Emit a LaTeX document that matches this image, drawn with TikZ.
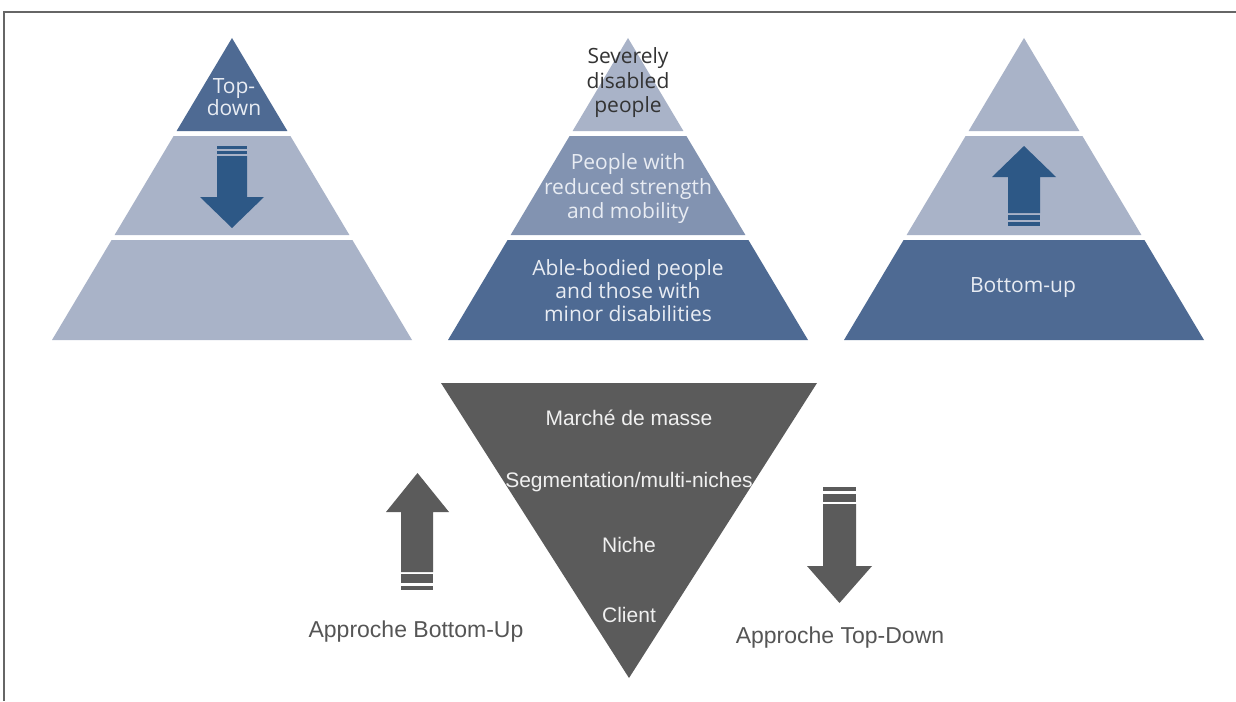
\documentclass[tikz,border=0pt]{standalone}
\usepackage{fontspec}
\setmainfont{Liberation Sans}
\newfontfamily\pyrfont{Open Sans}
\definecolor{darkblue}{HTML}{4E6A93}
\definecolor{midblue}{HTML}{8293B1}
\definecolor{lightblue}{HTML}{A9B3C8}
\definecolor{arrowblue}{HTML}{2D5886}
\definecolor{pyrwhite}{HTML}{E8ECF3}
\definecolor{sevgray}{HTML}{333333}
\definecolor{funnelgray}{HTML}{5B5B5B}
\definecolor{labelgray}{HTML}{555555}
\definecolor{framegray}{HTML}{666666}
\newcommand\drawpyr[4]{%
  \fill[#2] (#1,38) -- ({#1+55.4},131) -- ({#1-55.4},131) -- cycle;
  \fill[#3] ({#1-58.4},136) -- ({#1+58.4},136) -- ({#1+117.4},235) -- ({#1-117.4},235) -- cycle;
  \fill[#4] ({#1-120.4},240) -- ({#1+120.4},240) -- ({#1+180},340) -- ({#1-180},340) -- cycle;
}
\tikzset{
  pyrtext/.style={font=\pyrfont\fontsize{21}{24.5}\selectfont, text=pyrwhite, align=center, inner sep=0pt},
  funneltext/.style={font=\fontsize{21}{25}\selectfont, text=white!94!black, inner sep=0pt},
  labeltext/.style={font=\fontsize{23}{27}\selectfont, text=labelgray, inner sep=0pt},
  pyrarrow/.style={fill=arrowblue},
  grayarrow/.style={fill=funnelgray}
}
\begin{document}
\begin{tikzpicture}[x=1pt,y=-1pt]
\useasboundingbox (0,0) rectangle (1236,701);
\fill[white] (0,0) rectangle (1236,701);
\draw[framegray, line width=1.6pt] (4,701) -- (4,12) -- (1236,12);

% pyramids
\drawpyr{232}{darkblue}{lightblue}{lightblue}
\drawpyr{628}{lightblue}{midblue}{darkblue}
\drawpyr{1024}{lightblue}{lightblue}{darkblue}

% left pyramid arrow (down)
\fill[pyrarrow] (217,156) -- (247,156) -- (247,197) -- (264,197) -- (232,228) -- (200,197) -- (217,197) -- cycle;
\fill[pyrarrow] (217,146) rectangle (247,149);
\fill[pyrarrow] (217,151) rectangle (247,154);

% right pyramid arrow (up)
\fill[pyrarrow] (1008,213) -- (1008,177) -- (992,177) -- (1024,146) -- (1056,177) -- (1040,177) -- (1040,213) -- cycle;
\fill[pyrarrow] (1008,215) rectangle (1040,220);
\fill[pyrarrow] (1008,222) rectangle (1040,226);

% pyramid texts
\node[pyrtext, font=\pyrfont\fontsize{21}{21.5}\selectfont] (topdown) at (234,97) {Top-\\down};
\node[pyrtext, text=sevgray] (severe) at (628,83) {Severely\\disabled\\people};
\node[pyrtext] (reduced) at (628,189) {People with\\reduced strength\\and mobility};
\node[pyrtext, font=\pyrfont\fontsize{21}{23}\selectfont] (able) at (628,291) {Able-bodied people\\and those with\\minor disabilities};
\node[pyrtext] (bottomup) at (1023,288) {Bottom-up};

% funnel
\fill[funnelgray] (441,383) -- (817,383) -- (629,678) -- cycle;
\node[funneltext] (masse) at (629,418) {Marché de masse};
\node[funneltext] (segm) at (629,482) {Segmentation/multi-niches};
\node[funneltext] (niche) at (629,545) {Niche};
\node[funneltext] (client) at (629,615) {Client};

% bottom arrows
\fill[grayarrow] (401,572) -- (401,512) -- (386,512) -- (417.5,473) -- (449,512) -- (433,512) -- (433,572) -- cycle;
\fill[grayarrow] (401,574) rectangle (433,583);
\fill[grayarrow] (401,586) rectangle (433,590);

\fill[grayarrow] (823,504) -- (856,504) -- (856,566) -- (872,566) -- (839.5,603) -- (807,566) -- (823,566) -- cycle;
\fill[grayarrow] (823,487) rectangle (856,491);
\fill[grayarrow] (823,494) rectangle (856,502);

\node[labeltext] (lblbu) at (416,632) {Approche Bottom-Up};
\node[labeltext] (lbltd) at (840,638) {Approche Top-Down};
\end{tikzpicture}
\end{document}
